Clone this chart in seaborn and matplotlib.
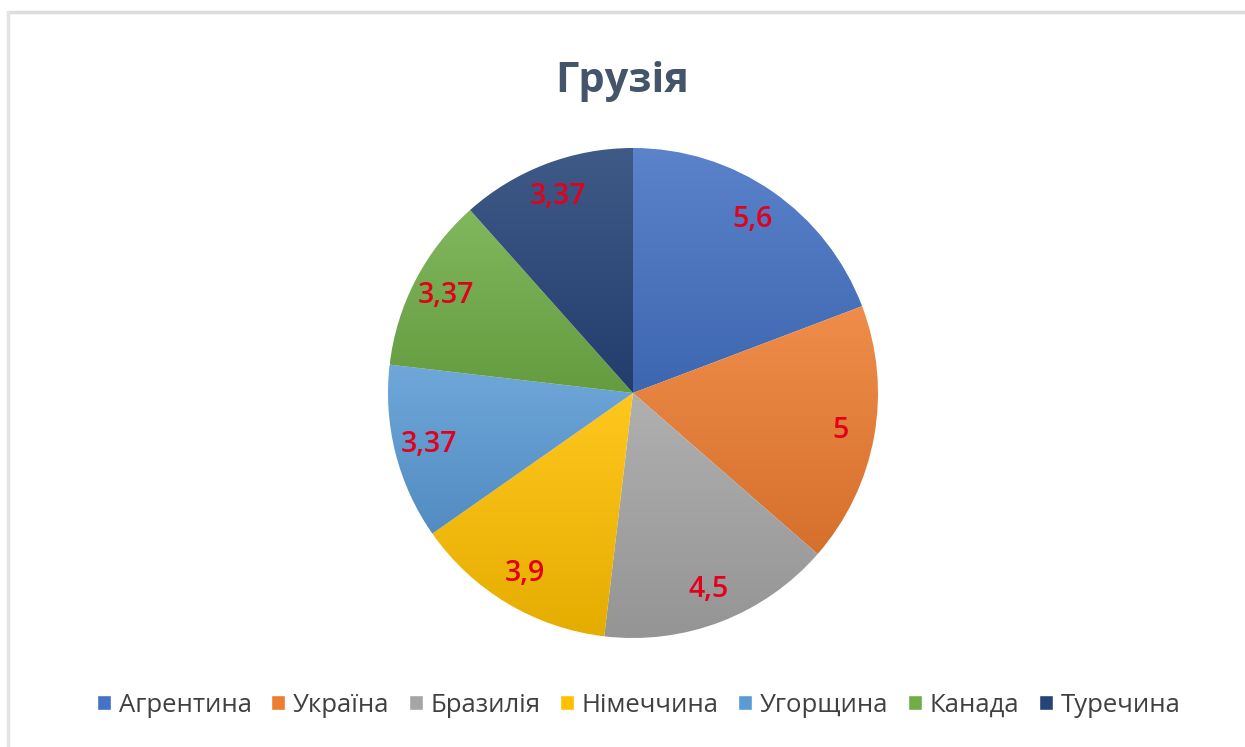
import numpy as np
import matplotlib
matplotlib.use("Agg")
import matplotlib.pyplot as plt
import matplotlib.colors as mcolors
from matplotlib.patches import Rectangle
from matplotlib.lines import Line2D
import seaborn as sns

title = "Грузія"
countries = ["Агрентина", "Україна", "Бразилія", "Німеччина", "Угорщина", "Канада", "Туречина"]
values = [5.6, 5, 4.5, 3.9, 3.37, 3.37, 3.37]
value_labels = ["5,6", "5", "4,5", "3,9", "3,37", "3,37", "3,37"]
base_colors = ["#4472C4", "#ED7D31", "#A5A5A5", "#FFC000", "#5B9BD5", "#70AD47", "#264478"]

sns.set_theme(style="white")
plt.rcParams["font.family"] = ["Open Sans", "DejaVu Sans"]

fig = plt.figure(figsize=(12.45, 7.47), dpi=100)
fig.patch.set_facecolor("white")
# frame: only top and left edges visible (cropped screenshot)
fig.lines.append(Line2D([8 / 1245, 1], [1 - 12 / 747, 1 - 12 / 747], transform=fig.transFigure,
                        color="#DCDCDC", linewidth=2.5))
fig.lines.append(Line2D([8 / 1245, 8 / 1245], [0, 1 - 12 / 747], transform=fig.transFigure,
                        color="#E4E4E4", linewidth=2.5))

ax = fig.add_axes([(633 - 245) / 1245, (747 - 393 - 245) / 747, 490 / 1245, 490 / 747])
palette = sns.color_palette(base_colors)

wedges, texts = ax.pie(values, colors=palette, startangle=90, counterclock=False,
                       labels=value_labels, labeldistance=0.86,
                       wedgeprops=dict(linewidth=0, edgecolor="none"),
                       textprops=dict(color="#E3001B", fontsize=20.5, fontweight="semibold",
                                      ha="center", va="center"))
ax.set_xlim(-1, 1)
ax.set_ylim(-1, 1)
ax.set_aspect("equal")

# Excel-like vertical gradient per slice
def tint(c, f):
    c = np.array(mcolors.to_rgb(c))
    return tuple(c + (1 - c) * f)

def shade(c, f):
    c = np.array(mcolors.to_rgb(c))
    return tuple(c * (1 - f))

fig.canvas.draw()
for w, c in zip(wedges, base_colors):
    bb = w.get_path().get_extents(w.get_patch_transform())
    top = tint(c, 0.12)
    bot = shade(c, 0.10)
    cmap = mcolors.LinearSegmentedColormap.from_list("g", [bot, top])
    grad = np.linspace(0, 1, 256).reshape(-1, 1)
    im = ax.imshow(grad, extent=[bb.x0, bb.x1, bb.y0, bb.y1], origin="lower",
                   cmap=cmap, aspect="auto", zorder=1)
    im.set_clip_path(w)
    w.set_facecolor("none")
for t in texts:
    t.set_zorder(5)
ax.set_xlim(-1, 1)
ax.set_ylim(-1, 1)
ax.axis("off")

fig.text(0.5, 1 - 82 / 747, title, ha="center", va="center", fontsize=30,
         fontweight="bold", color="#44546A")

handles = [Rectangle((0, 0), 1, 1, facecolor=c) for c in base_colors]
leg = fig.legend(handles, countries, loc="center", bbox_to_anchor=(0.513, 1 - 705 / 747),
                 ncol=7, frameon=False, fontsize=18.5, handlelength=0.55, handleheight=0.55,
                 handletextpad=0.3, columnspacing=0.75, labelcolor="#404040")

fig.savefig("out.png", dpi=100)
